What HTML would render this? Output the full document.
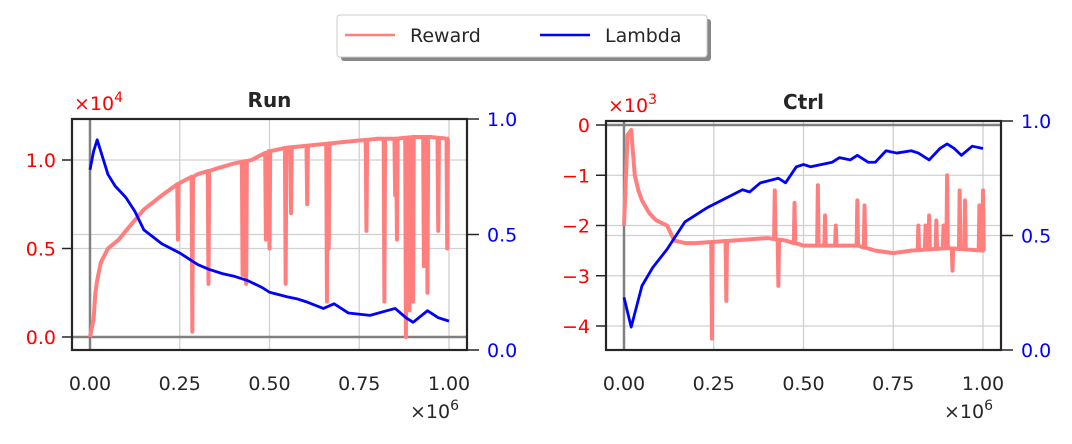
<!DOCTYPE html>
<html><head><meta charset="utf-8"><style>
body{margin:0;background:#fff;}
svg text{font-family:"DejaVu Sans","Liberation Sans",sans-serif;}
</style></head><body>
<svg id="c" width="1072" height="439" xmlns="http://www.w3.org/2000/svg">
<g>
<rect x="341" y="19" width="370" height="42" rx="3" fill="#888"/>
<rect x="337" y="15" width="370" height="42" rx="3" fill="#fff" stroke="#ccc"/>
<line x1="345" y1="35" x2="395" y2="35" stroke="#ff7f7f" stroke-width="2.5"/>
<text x="410" y="42" font-size="19" fill="#262626">Reward</text>
<line x1="540" y1="35" x2="590" y2="35" stroke="#0000ff" stroke-width="2.5"/>
<text x="605" y="42" font-size="19" fill="#262626">Lambda</text>
</g>
</svg>
<script>
const runX=[0,0.005,0.01,0.015,0.02,0.03,0.05,0.08,0.1,0.125,0.15,0.2,0.25,0.3,0.35,0.4,0.45,0.5,0.55,0.6,0.65,0.7,0.75,0.8,0.85,0.9,0.95,1.0];
const runReward=[0,0.05,0.1,0.25,0.32,0.42,0.5,0.55,0.6,0.66,0.72,0.8,0.87,0.92,0.95,0.98,1.0,1.05,1.07,1.08,1.09,1.1,1.11,1.12,1.12,1.13,1.13,1.12];
const runSpikeX=[0.245,0.285,0.33,0.425,0.435,0.49,0.5,0.545,0.56,0.605,0.66,0.665,0.77,0.82,0.85,0.855,0.88,0.89,0.9,0.93,0.94,0.97,0.995];
const runSpikeV=[0.55,0.03,0.3,0.35,0.3,0.55,0.5,0.3,0.7,0.75,0.2,0.5,0.6,0.2,0.8,0.55,0,0.15,0.2,0.4,0.25,0.6,0.5];
const runLX=[0,0.01,0.02,0.03,0.05,0.07,0.1,0.125,0.15,0.2,0.25,0.3,0.33,0.37,0.4,0.44,0.48,0.5,0.55,0.58,0.6,0.65,0.68,0.72,0.78,0.85,0.88,0.9,0.94,0.97,1.0];
const runLambda=[0.78,0.86,0.91,0.86,0.76,0.71,0.66,0.6,0.52,0.46,0.42,0.37,0.35,0.33,0.32,0.3,0.27,0.25,0.23,0.22,0.21,0.18,0.2,0.16,0.15,0.18,0.14,0.12,0.17,0.14,0.125];
const ctrlX=[0,0.01,0.02,0.03,0.04,0.05,0.07,0.09,0.12,0.14,0.17,0.2,0.3,0.4,0.45,0.5,0.6,0.65,0.7,0.75,0.8,0.9,1.0];
const ctrlReward=[-2.0,-0.2,-0.1,-1.0,-1.3,-1.5,-1.75,-1.9,-2.0,-2.3,-2.35,-2.35,-2.3,-2.25,-2.3,-2.4,-2.4,-2.4,-2.5,-2.55,-2.5,-2.45,-2.5];
const ctrlSpikeX=[0.245,0.285,0.42,0.43,0.475,0.54,0.56,0.59,0.65,0.67,0.82,0.84,0.85,0.87,0.89,0.9,0.915,0.935,0.95,0.99,1.0];
const ctrlSpikeV=[-4.25,-3.5,-1.3,-3.2,-1.55,-1.2,-1.8,-2.0,-1.5,-1.6,-2.0,-2.0,-1.8,-1.9,-2.0,-1.0,-2.9,-1.3,-1.5,-1.6,-1.3];
const ctrlLX=[0,0.02,0.05,0.08,0.12,0.17,0.23,0.28,0.33,0.35,0.38,0.43,0.45,0.48,0.5,0.52,0.55,0.58,0.6,0.63,0.65,0.68,0.7,0.73,0.76,0.8,0.82,0.85,0.88,0.9,0.92,0.94,0.97,1.0];
const ctrlLambda=[0.23,0.1,0.28,0.36,0.44,0.56,0.62,0.66,0.7,0.69,0.73,0.75,0.73,0.8,0.81,0.8,0.81,0.82,0.84,0.83,0.85,0.82,0.82,0.87,0.86,0.87,0.86,0.83,0.88,0.9,0.88,0.85,0.89,0.88];
const xTicks=["0.00","0.25","0.50","0.75","1.00"];
const runYTicks=[0,0.5,1.0], runYLabels=["0.0","0.5","1.0"];
const ctrlYTicks=[0,-1,-2,-3,-4], ctrlYLabels=["0","\u22121","\u22122","\u22123","\u22124"];
const lTicks=[0,0.5,1.0], lLabels=["0.0","0.5","1.0"];

const svg=document.getElementById('c');
const NS='http://www.w3.org/2000/svg';
function el(t,a,p){const e=document.createElementNS(NS,t);for(const k in a)e.setAttribute(k,a[k]);(p||svg).appendChild(e);return e;}
function panel(cfg){
  const g=el('g',{});
  
  
  const X=v=>cfg.x0+v*(cfg.x1-cfg.x0);
  const Y=v=>cfg.y0+(v-cfg.r0)*(cfg.ry1-cfg.y0)/(cfg.r1-cfg.r0);
  const L=v=>cfg.bottom-v*(cfg.bottom-cfg.top);
  xTicks.forEach((t,i)=>{const x=X(i*0.25);
    el('line',{x1:x,y1:cfg.top,x2:x,y2:cfg.bottom,stroke:'#d0d0d0','stroke-width':1.3},g);
    const tx=el('text',{x:x,y:cfg.bottom+40,'font-size':19,fill:'#262626','text-anchor':'middle'},g);tx.textContent=t;
    
  });
  cfg.yt.forEach((v,i)=>{const y=Y(v);
    el('line',{x1:cfg.left,y1:y,x2:cfg.right,y2:y,stroke:'#d0d0d0','stroke-width':1.3},g);
    el('line',{x1:cfg.left-10,y1:y,x2:cfg.left,y2:y,stroke:'#262626','stroke-width':1.5},g);
    const tx=el('text',{x:cfg.left-16,y:y+7,'font-size':19,fill:'#ff0000','text-anchor':'end'},g);tx.textContent=cfg.yl[i];
    
  });
  lTicks.forEach((v,i)=>{const y=L(v);
    el('line',{x1:cfg.left,y1:y,x2:cfg.right,y2:y,stroke:'#d0d0d0','stroke-width':1.3},g);
    el('line',{x1:cfg.right,y1:y,x2:cfg.right+12,y2:y,stroke:'#262626','stroke-width':1.5},g);
    const tx=el('text',{x:cfg.right+20,y:y+7,'font-size':19,fill:'#0000ff'},g);tx.textContent=lLabels[i];
    
  });
  el('line',{x1:X(0),y1:cfg.top,x2:X(0),y2:cfg.bottom,stroke:'#808080','stroke-width':2.5},g);
  el('line',{x1:cfg.left,y1:Y(0),x2:cfg.right,y2:Y(0),stroke:'#808080','stroke-width':2.5},g);
  let pts=[];
  const base=(x)=>{for(let i=1;i<cfg.rx.length;i++){if(x<=cfg.rx[i]){const t=(x-cfg.rx[i-1])/(cfg.rx[i]-cfg.rx[i-1]);return cfg.rv[i-1]+t*(cfg.rv[i]-cfg.rv[i-1]);}}return cfg.rv[cfg.rv.length-1];};
  const all=[];cfg.rx.forEach((x,i)=>all.push([x,cfg.rv[i],0]));cfg.sx.forEach((x,i)=>all.push([x,cfg.sv[i],1]));
  all.sort((a,b)=>a[0]-b[0]);
  all.forEach(p=>{if(p[2]){const b=base(p[0]);pts.push([X(p[0]-0.002),Y(b)],[X(p[0]),Y(p[1])],[X(p[0]+0.002),Y(b)]);}else pts.push([X(p[0]),Y(p[1])]);});
  const rp=el('polyline',{points:pts.map(p=>p.join(',')).join(' '),fill:'none',stroke:'#ff7f7f','stroke-width':4,'stroke-linejoin':'round'},g);
  
  const lp=el('polyline',{points:cfg.lx.map((x,i)=>X(x)+','+L(cfg.lv[i])).join(' '),fill:'none',stroke:'#0000ff','stroke-width':2.8,'stroke-linejoin':'round'},g);
  
  el('rect',{x:cfg.left,y:cfg.top,width:cfg.right-cfg.left,height:cfg.bottom-cfg.top,fill:'none',stroke:'#262626','stroke-width':2.2},g);
  const ti=el('text',{x:(cfg.left+cfg.right)/2,y:cfg.top-12,'font-size':20,'font-weight':'bold',fill:'#262626','text-anchor':'middle'},g);ti.textContent=cfg.title;
  
  const m=el('text',{x:cfg.left+2,y:cfg.top-9,'font-size':19,fill:'#ff0000'},g);m.innerHTML='×10<tspan dy="-8" font-size="14">'+cfg.exp+'</tspan>';
  
  const xm=el('text',{x:cfg.right-57,y:cfg.bottom+68,'font-size':19,fill:'#262626'},g);xm.innerHTML='×10<tspan dy="-8" font-size="14">6</tspan>';
  
}
panel({name:'run-panel',title:'Run',exp:'4',left:72,right:467,top:119,bottom:350,x0:90,x1:449,y0:337,ry1:160,r0:0,r1:1,yt:runYTicks,yl:runYLabels,rx:runX,rv:runReward,sx:runSpikeX,sv:runSpikeV,lx:runLX,lv:runLambda});
panel({name:'ctrl-panel',title:'Ctrl',exp:'3',left:606,right:1001,top:121,bottom:350,x0:624,x1:983,y0:125,ry1:326,r0:0,r1:-4,yt:ctrlYTicks,yl:ctrlYLabels,rx:ctrlX,rv:ctrlReward,sx:ctrlSpikeX,sv:ctrlSpikeV,lx:ctrlLX,lv:ctrlLambda});
</script>
</body></html>
